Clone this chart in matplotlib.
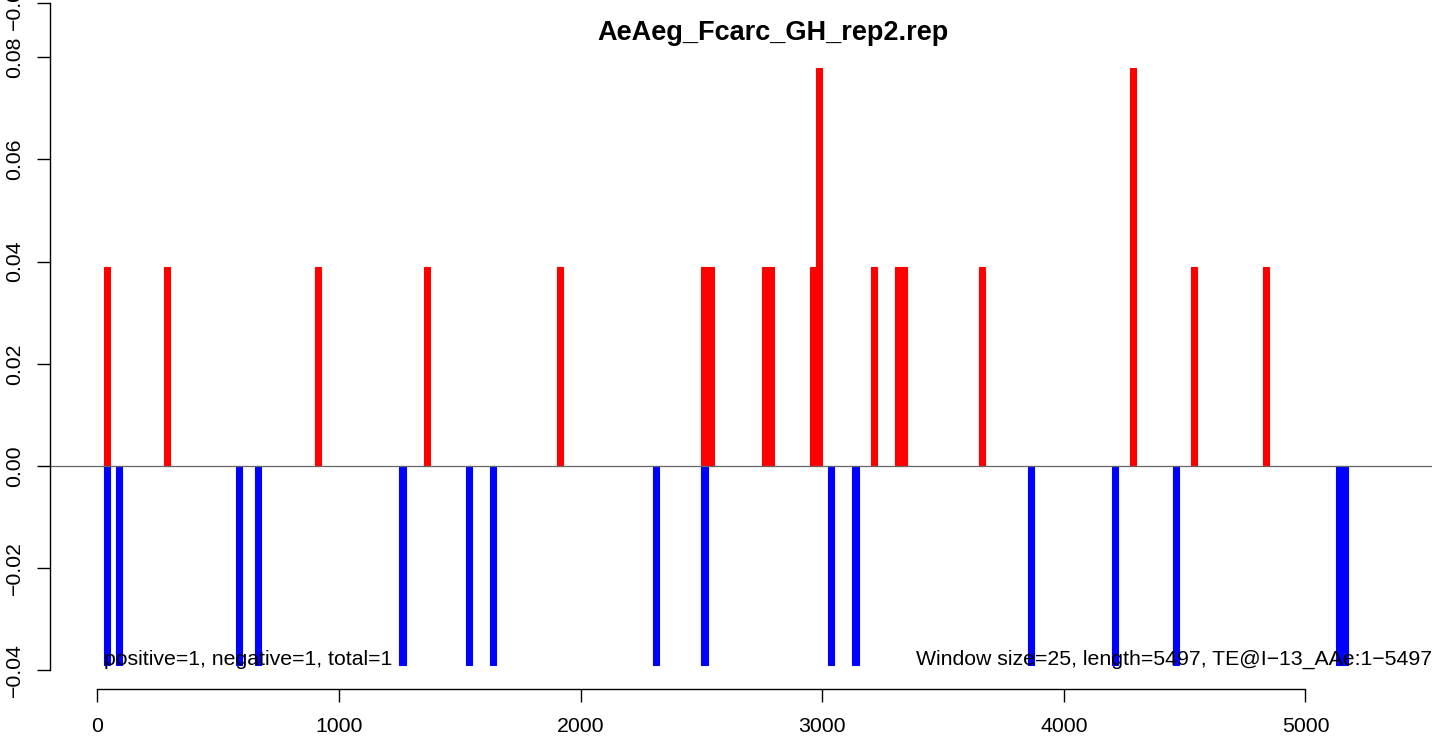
import matplotlib
matplotlib.use("Agg")
import matplotlib.pyplot as plt

plt.rcParams['font.family'] = ['Liberation Sans', 'DejaVu Sans']

# window starts (window size 25) and normalised counts
pos_starts = [25, 275, 900, 1350, 1900, 2500, 2525, 2750, 2775, 2950, 2975,
              3200, 3300, 3325, 3650, 4275, 4525, 4825]
pos_values = [0.0389, 0.0389, 0.0389, 0.0389, 0.0389, 0.0389, 0.0389, 0.0389,
              0.0389, 0.0389, 0.0778, 0.0389, 0.0389, 0.0389, 0.0389, 0.0778,
              0.0389, 0.0389]
neg_starts = [25, 75, 575, 650, 1250, 1525, 1625, 2300, 2500, 3025, 3125,
              3850, 4200, 4450, 5125, 5150]
neg_values = [-0.0389] * len(neg_starts)

window = 25
title = "AeAeg_Fcarc_GH_rep2.rep"
left_note = "positive=1, negative=1, total=1"
right_note = "Window size=25, length=5497, TE@I\u221213_AAe:1\u22125497"

xticks = [0, 1000, 2000, 3000, 4000, 5000]
yticks = [-0.04, -0.02, 0.00, 0.02, 0.04, 0.06, 0.08]
ytick_labels = ["\u22120.04", "\u22120.02", "0.00", "0.02", "0.04", "0.06", "0.08"]

W, H = 1439, 740
fig = plt.figure(figsize=(W / 100, H / 100), dpi=100)
# plot region in pixels
L, R, B, T = 50, 1432, 689, 3
ax = fig.add_axes([L / W, 1 - B / H, (R - L) / W, (B - T) / H])

ylo, yhi = -0.04362, 0.09057
ax.set_xlim(-196.6, 5523.6)
ax.set_ylim(ylo, yhi)

ax.bar([s + window / 2 for s in pos_starts], pos_values, width=window,
       color="#ff0000", edgecolor="#ff0000", linewidth=0.8)
ax.bar([s + window / 2 for s in neg_starts], neg_values, width=window,
       color="#0000ff", edgecolor="#0000ff", linewidth=0.8)
ax.axhline(0, color="#666666", linewidth=0.9)

ax.text(27, -0.0389, left_note, fontsize=15.3, ha="left", va="baseline")
ax.text(1, -0.0389, right_note, fontsize=15.3, ha="right", va="baseline",
        transform=ax.get_yaxis_transform())

fig.text(773 / W, 1 - 40 / H, title, fontsize=19.5, fontweight="bold",
         ha="center", va="baseline")

for s in ["top", "right"]:
    ax.spines[s].set_visible(False)
ax.spines["bottom"].set_bounds(0, 5000)
ax.spines["left"].set_bounds(-0.04, yhi)

ax.set_xticks(xticks)
ax.set_xticklabels([str(v) for v in xticks])
ax.set_yticks(yticks + [yhi])
ax.set_yticklabels(ytick_labels + ["\u22120.04"])
ax.tick_params(axis="both", length=9.5, width=1.0, labelsize=15.3)
ax.tick_params(axis="x", pad=11)
ax.tick_params(axis="y", pad=9, labelrotation=90)
for lab in ax.get_yticklabels():
    lab.set_va("center")
for sp in ax.spines.values():
    sp.set_linewidth(1.0)

fig.savefig("out.png", dpi=100)
